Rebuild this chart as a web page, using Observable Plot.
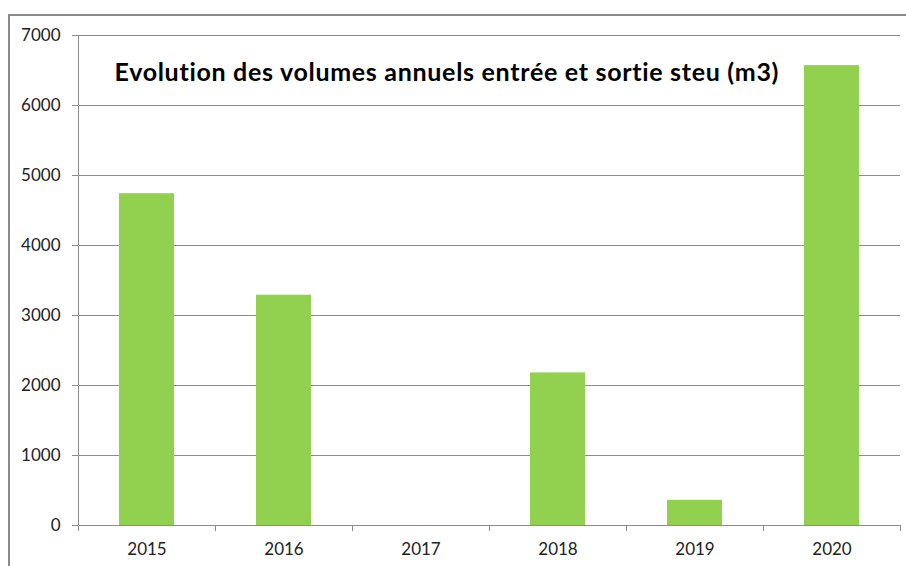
<!DOCTYPE html>
<html>
<head>
<meta charset="utf-8">
<script src="https://cdn.jsdelivr.net/npm/d3@7"></script>
<script src="https://cdn.jsdelivr.net/npm/@observablehq/plot@0.6"></script>
<style>
  html, body { margin: 0; padding: 0; background: #fff; }
  #wrap { position: relative; width: 906px; height: 566px; overflow: hidden; }
  #border { position: absolute; left: 8px; top: 14px; width: 920px; height: 600px;
            border-left: 2px solid #8a8a8a; border-top: 2px solid #8a8a8a; box-sizing: border-box; }
  #chart { position: absolute; left: 0; top: 0; }
  .ttl text { letter-spacing: 0.7px; }
</style>
</head>
<body>
<div id="wrap"><div id="border"></div><div id="chart"></div></div>
<script>
const years = ["2015", "2016", "2017", "2018", "2019", "2020"];
const volumes = [4740, 3290, 0, 2180, 360, 6570];
const yTicks = [0, 1000, 2000, 3000, 4000, 5000, 6000, 7000];
const title = "Evolution des volumes annuels entrée et sortie steu (m3)";

const data = years.map((y, i) => ({year: y, value: volumes[i]}));

const W = 906, H = 566;
const mL = 78, mR = 6, mT = 35, mB = 41;
const step = (W - mL - mR) / years.length;
const grid = "#8c8c8c";
const font = "Lato, 'Open Sans', sans-serif";

const plot = Plot.plot({
  width: W,
  height: H,
  marginLeft: mL,
  marginRight: mR,
  marginTop: mT,
  marginBottom: mB,
  style: {fontFamily: font, fontSize: "17px", color: "#222", background: "transparent", overflow: "visible"},
  x: {domain: years, paddingInner: 0.6, paddingOuter: 0.3, label: null},
  y: {domain: [0, 7000], label: null},
  marks: [
    Plot.ruleY(yTicks, {stroke: grid, strokeWidth: 1}),
    Plot.frame({anchor: "left", stroke: grid, strokeWidth: 1}),
    Plot.barY(data, {x: "year", y: "value", fill: "#92D050"}),
    Plot.ruleX(years, {x: d => d, dx: -step / 2, y1: 0, y2: 0, insetBottom: -6, stroke: grid}),
    Plot.ruleX(years.slice(-1), {x: d => d, dx: step / 2, y1: 0, y2: 0, insetBottom: -6, stroke: grid}),
    Plot.axisY({ticks: yTicks, tickSize: 6, tickPadding: 12, stroke: grid, tickFormat: d => String(d), fontSize: 17, fill: "#222"}),
    Plot.axisX({tickSize: 0, tickPadding: 17, fontSize: 17, fill: "#222"}),
    Plot.text([title], {frameAnchor: "top-left", text: d => d, dx: 36, dy: 37.6, textAnchor: "start", lineAnchor: "middle",
      fontSize: 25, fontWeight: "bold", fill: "#000", fontFamily: font, className: "ttl"})
  ]
});
document.getElementById("chart").appendChild(plot);
</script>
</body>
</html>
